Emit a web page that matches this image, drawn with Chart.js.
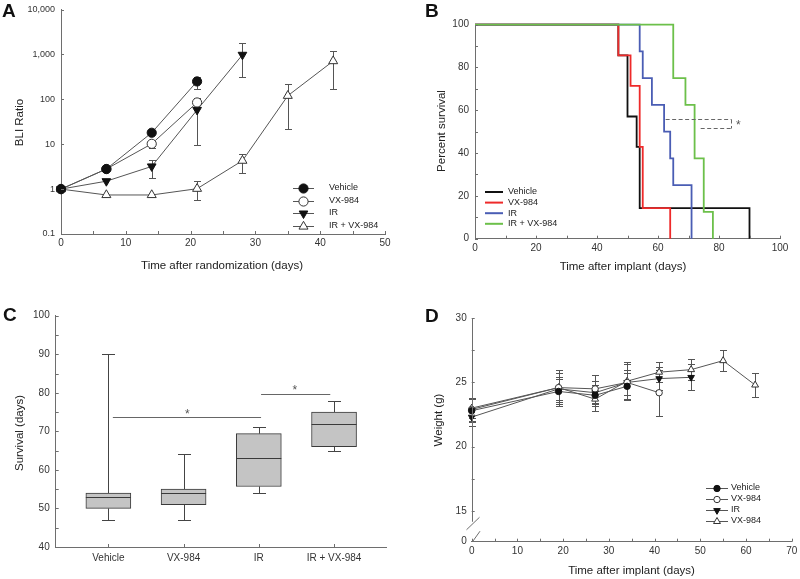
<!DOCTYPE html>
<html><head><meta charset="utf-8">
<script src="https://cdn.jsdelivr.net/npm/chart.js@4.4.0/dist/chart.umd.min.js"></script>
<style>
html,body{margin:0;padding:0;background:#fff;}
#wrap{position:relative;width:800px;height:579px;background:#fff;}
canvas{position:absolute;left:0;top:0;}
</style></head><body>
<div id="wrap">
<canvas id="cA" width="800" height="579"></canvas>
<canvas id="cB" width="800" height="579"></canvas>
<canvas id="cC" width="800" height="579"></canvas>
<canvas id="cD" width="800" height="579"></canvas>
</div>
<script>
// ================= DATA =================
// Panel A: BLI ratio (log scale)
const aLabels = ['Vehicle', 'VX-984', 'IR', 'IR + VX-984'];
const aYTickVals = [0.1, 1, 10, 100, 1000, 10000];
const aYTickLabels = ['0.1', '1', '10', '100', '1,000', '10,000'];
const aDaysVehicle = [0, 7, 14, 21];
const aVehicle = [1, 2.8, 18, 250];
const aVehicleLo = [null, null, null, 168];
const aVehicleHi = [null, null, null, 320];
const aDaysVX = [0, 7, 14, 21];
const aVX = [1, 2.8, 10.2, 85];
const aVXLo = [null, null, 8.3, 68];
const aVXHi = [null, null, 11.2, 105];
const aDaysIR = [0, 7, 14, 21, 28];
const aIR = [1, 1.5, 3.2, 58, 980];
const aIRLo = [null, null, 1.75, 9.7, 320];
const aIRHi = [null, null, 4.5, 100, 1750];
const aDaysCombo = [0, 7, 14, 21, 28, 35, 42];
const aCombo = [1, 0.74, 0.74, 1.02, 4.3, 120, 710];
const aComboLo = [null, null, null, 0.57, 2.3, 22, 168];
const aComboHi = [null, null, null, 1.5, 5.9, 215, 1220];

// Panel B: Kaplan-Meier survival
const bLabels = ['Vehicle', 'VX-984', 'IR', 'IR + VX-984'];
const bTimesVehicle = [0, 47, 50, 53, 54, 90];
const bSurvVehicle = [100, 85.7, 57.1, 42.9, 14.3, 0];
const bTimesVX = [0, 47, 51, 54, 55, 64];
const bSurvVX = [100, 85.7, 71.4, 42.9, 14.3, 0];
const bTimesIR = [0, 54, 55, 58, 62, 64, 65, 71];
const bSurvIR = [100, 87.5, 75, 62.5, 50, 37.5, 25, 0];
const bTimesCombo = [0, 65, 69, 72, 75, 78];
const bSurvCombo = [100, 75, 62.5, 37.5, 12.5, 0];
const bBracketTopY = 56, bBracketBotY = 51.8;
const bBracketTopX0 = 62.5, bBracketBotX0 = 74, bBracketX1 = 84, bStarX = 86.3;

// Panel C: survival box plot
const cCategories = ['Vehicle', 'VX-984', 'IR', 'IR + VX-984'];
const cMin = [47, 47, 54, 65];
const cQ1 = [50, 51, 55.7, 66];
const cMedian = [53, 54, 63, 72];
const cQ3 = [54, 55, 69.4, 75];
const cMax = [90, 64, 71, 78];
const cSigX0 = [1.06, 3.03];
const cSigX1 = [3.03, 3.95];
const cSigY = [73.6, 79.8];
const cStarX = [2.05, 3.48];

// Panel D: body weight
const dLabels = ['Vehicle', 'VX-984', 'IR', 'VX-984'];
const dDaysVehicle = [0, 19, 27, 34];
const dVehicle = [22.8, 24.3, 24.0, 24.7];
const dVehicleSD = [0.9, 1.0, 0.8, 1.0];
const dDaysVX = [0, 19, 27, 34, 41];
const dVX = [22.9, 24.6, 24.5, 25.0, 24.2];
const dVXSD = [0.9, 1.1, 1.1, 1.0, 1.8];
const dDaysIR = [0, 19, 27, 34, 41, 48];
const dIR = [22.3, 24.5, 24.2, 25.0, 25.3, 25.4];
const dIRSD = [0.7, 0.9, 0.9, 1.4, 0.9, 1.0];
const dDaysCombo = [0, 19, 27, 34, 41, 48, 55, 62];
const dCombo = [23.0, 24.6, 23.7, 25.1, 25.8, 26.0, 26.7, 24.8];
const dComboSD = [0.8, 1.4, 0.9, 1.5, 0.8, 0.8, 0.8, 0.9];
const dYBreakMin = 12.59; // axis bottom shown as "0" (broken axis)

// ================= HELPERS =================
const FONT = "'Liberation Sans', Arial, Helvetica, sans-serif";
Chart.defaults.font.family = FONT;
Chart.defaults.font.size = 10;
Chart.defaults.color = '#333';
Chart.defaults.animation = false;
Chart.defaults.events = [];
Chart.defaults.plugins.legend.display = false;
Chart.defaults.plugins.tooltip.enabled = false;

const AXIS = '#6e6e6e';
const LINE = '#555';
const W = 800, H = 579, YW = 50, XH = 20;

function area(L, T, R, B) { return { left: L - YW, top: T, right: W - R, bottom: H - B - XH }; }
function fitY(s) { s.width = YW; s.paddingTop = 0; s.paddingBottom = 0; }
function fitX(s) { s.height = XH; s.paddingLeft = 0; s.paddingRight = 0; }
function range(a, b, st) { const r = []; for (let v = a; v <= b + 1e-9; v += st) r.push(+v.toFixed(4)); return r; }
function pts(xs, ys) { return xs.map((x, i) => ({ x: x, y: ys[i] })); }

function axisBase(extra) {
  return Object.assign({
    grid: { display: false, drawTicks: false },
    border: { display: true, color: AXIS, width: 1 },
  }, extra);
}

function text(ctx, s, x, y, size, o) {
  o = o || {};
  ctx.save();
  ctx.font = (o.bold ? 'bold ' : '') + size + 'px ' + FONT;
  ctx.fillStyle = o.color || '#222';
  ctx.textAlign = o.align || 'center';
  ctx.textBaseline = o.baseline || 'middle';
  ctx.translate(x, y);
  if (o.rot) ctx.rotate(o.rot);
  ctx.fillText(s, 0, 0);
  ctx.restore();
}

function inTicks(ctx, scale, values, len) {
  ctx.save();
  ctx.strokeStyle = AXIS; ctx.lineWidth = 1; ctx.beginPath();
  values.forEach(v => {
    const p = Math.round(scale.getPixelForValue(v)) + 0.5;
    if (scale.isHorizontal()) { const y = scale.top; ctx.moveTo(p, y); ctx.lineTo(p, y - len); }
    else { const x = scale.right; ctx.moveTo(x, p); ctx.lineTo(x + len, p); }
  });
  ctx.stroke(); ctx.restore();
}

function errBars(chart, xs, lo, hi, cap) {
  const ctx = chart.ctx, sx = chart.scales.x, sy = chart.scales.y;
  ctx.save(); ctx.strokeStyle = LINE; ctx.lineWidth = 1; ctx.beginPath();
  xs.forEach((x, i) => {
    if (lo[i] == null) return;
    const px = Math.round(sx.getPixelForValue(x)) + 0.5;
    const y1 = Math.round(sy.getPixelForValue(lo[i])) + 0.5;
    const y2 = Math.round(sy.getPixelForValue(hi[i])) + 0.5;
    ctx.moveTo(px, y1); ctx.lineTo(px, y2);
    ctx.moveTo(px - cap, y1); ctx.lineTo(px + cap, y1);
    ctx.moveTo(px - cap, y2); ctx.lineTo(px + cap, y2);
  });
  ctx.stroke(); ctx.restore();
}

function marker(ctx, st, x, y) {
  ctx.save();
  ctx.fillStyle = st.fill; ctx.strokeStyle = st.stroke; ctx.lineWidth = 1;
  if (Chart.helpers && Chart.helpers.drawPoint) {
    Chart.helpers.drawPoint(ctx, { pointStyle: st.style, rotation: st.rot || 0, radius: st.r, borderWidth: 1 }, x, y);
  } else {
    ctx.beginPath(); ctx.arc(x, y, st.r, 0, Math.PI * 2); ctx.fill(); ctx.stroke();
  }
  ctx.restore();
}

function markerLegend(ctx, labels, styles, x1, x2, xm, xt, ys, size) {
  labels.forEach((lab, i) => {
    const y = ys[i];
    ctx.save(); ctx.strokeStyle = LINE; ctx.lineWidth = 1; ctx.beginPath();
    ctx.moveTo(x1, Math.round(y) + 0.5); ctx.lineTo(x2, Math.round(y) + 0.5); ctx.stroke(); ctx.restore();
    marker(ctx, styles[i], xm, Math.round(y) + 0.5);
    text(ctx, lab, xt, y, size, { align: 'left' });
  });
}

function lineDs(label, xs, ys, st) {
  return {
    label: label, data: pts(xs, ys), borderColor: LINE, borderWidth: 1, tension: 0, clip: false,
    pointStyle: st.style, rotation: st.rot || 0, pointRadius: st.r,
    pointBackgroundColor: st.fill, pointBorderColor: st.stroke, pointBorderWidth: 1
  };
}

// ================= PANEL A =================
const aStyles = [
  { style: 'circle', r: 4.6, fill: '#111', stroke: '#111' },
  { style: 'circle', r: 4.6, fill: '#fff', stroke: '#333' },
  { style: 'triangle', rot: 180, r: 5, fill: '#111', stroke: '#111' },
  { style: 'triangle', r: 5.2, fill: '#fff', stroke: '#333' }
];
new Chart(document.getElementById('cA'), {
  type: 'line',
  data: { datasets: [
    lineDs(aLabels[0], aDaysVehicle, aVehicle, aStyles[0]),
    lineDs(aLabels[1], aDaysVX, aVX, aStyles[1]),
    lineDs(aLabels[2], aDaysIR, aIR, aStyles[2]),
    lineDs(aLabels[3], aDaysCombo, aCombo, aStyles[3])
  ] },
  options: {
    responsive: false,
    layout: { padding: area(61, 9.5, 385, 234) },
    scales: {
      x: axisBase({ type: 'linear', min: 0, max: 50, afterFit: fitX,
        ticks: { stepSize: 10, padding: 3.5, maxRotation: 0, autoSkip: false } }),
      y: axisBase({ type: 'logarithmic', min: 0.1, max: 10000, afterFit: fitY,
        afterBuildTicks: s => { s.ticks = aYTickVals.map(v => ({ value: v })); },
        ticks: { padding: 6, autoSkip: false, font: { size: 9 }, callback: (v, i) => aYTickLabels[i] } })
    }
  },
  plugins: [{
    id: 'decoA',
    beforeDatasetsDraw(chart) {
      errBars(chart, aDaysVehicle, aVehicleLo, aVehicleHi, 3.5);
      errBars(chart, aDaysVX, aVXLo, aVXHi, 3.5);
      errBars(chart, aDaysIR, aIRLo, aIRHi, 3.5);
      errBars(chart, aDaysCombo, aComboLo, aComboHi, 3.5);
    },
    afterDraw(chart) {
      const ctx = chart.ctx;
      inTicks(ctx, chart.scales.x, range(0, 50, 5), 3);
      inTicks(ctx, chart.scales.y, aYTickVals, 3);
      text(ctx, 'A', 2, 17, 19, { bold: true, align: 'left', baseline: 'alphabetic', color: '#111' });
      text(ctx, 'Time after randomization (days)', 222, 265.5, 11.5);
      text(ctx, 'BLI Ratio', 19.5, 122.5, 11.5, { rot: -Math.PI / 2 });
      markerLegend(ctx, aLabels, aStyles, 293, 314, 303.5, 329, [188, 200.5, 213, 225.5], 9);
    }
  }]
});

// ================= PANEL B =================
const bColors = ['#111111', '#ee2a2a', '#4a5db4', '#6cc04a'];
function kmDs(label, xs, ys, color, order) {
  return { label: label, data: pts(xs, ys), borderColor: color, borderWidth: 1.8, stepped: true,
    pointRadius: 0, tension: 0, clip: false, order: order };
}
new Chart(document.getElementById('cB'), {
  type: 'line',
  data: { datasets: [
    kmDs(bLabels[0], bTimesVehicle, bSurvVehicle, bColors[0], 3),
    kmDs(bLabels[1], bTimesVX, bSurvVX, bColors[1], 2),
    kmDs(bLabels[2], bTimesIR, bSurvIR, bColors[2], 1),
    kmDs(bLabels[3], bTimesCombo, bSurvCombo, bColors[3], 0)
  ] },
  options: {
    responsive: false,
    layout: { padding: area(475, 24.7, 780, 238.7) },
    scales: {
      x: axisBase({ type: 'linear', min: 0, max: 100, afterFit: fitX,
        ticks: { stepSize: 20, padding: 4, maxRotation: 0, autoSkip: false } }),
      y: axisBase({ type: 'linear', min: 0, max: 100, afterFit: fitY,
        ticks: { stepSize: 20, padding: 6, autoSkip: false } })
    }
  },
  plugins: [{
    id: 'decoB',
    afterDraw(chart) {
      const ctx = chart.ctx, sx = chart.scales.x, sy = chart.scales.y;
      inTicks(ctx, sx, range(0, 100, 10), 3);
      inTicks(ctx, sy, range(0, 100, 10), 3);
      // significance bracket
      const yT = Math.round(sy.getPixelForValue(bBracketTopY)) + 0.5;
      const yB = Math.round(sy.getPixelForValue(bBracketBotY)) + 0.5;
      const xR = Math.round(sx.getPixelForValue(bBracketX1)) + 0.5;
      ctx.save(); ctx.strokeStyle = '#666'; ctx.lineWidth = 1; ctx.setLineDash([4, 2.5]);
      ctx.beginPath();
      ctx.moveTo(sx.getPixelForValue(bBracketTopX0), yT); ctx.lineTo(xR, yT);
      ctx.moveTo(sx.getPixelForValue(bBracketBotX0), yB); ctx.lineTo(xR, yB);
      ctx.moveTo(xR, yT); ctx.lineTo(xR, yB);
      ctx.stroke(); ctx.restore();
      text(ctx, '*', sx.getPixelForValue(bStarX), (yT + yB) / 2 + 2, 12, { color: '#555' });
      text(ctx, 'B', 425, 17, 19, { bold: true, align: 'left', baseline: 'alphabetic', color: '#111' });
      text(ctx, 'Time after implant (days)', 623, 266.5, 11.5);
      text(ctx, 'Percent survival', 442, 131, 11.5, { rot: -Math.PI / 2 });
      const ys = [192, 202.6, 213.2, 223.8];
      bLabels.forEach((lab, i) => {
        ctx.save(); ctx.strokeStyle = bColors[i]; ctx.lineWidth = 2; ctx.beginPath();
        ctx.moveTo(485, ys[i]); ctx.lineTo(503, ys[i]); ctx.stroke(); ctx.restore();
        text(ctx, lab, 508, ys[i], 9, { align: 'left' });
      });
    }
  }]
});

// ================= PANEL C =================
new Chart(document.getElementById('cC'), {
  type: 'bar',
  data: { datasets: [{
    label: 'Survival',
    data: cCategories.map((c, i) => ({ x: i + 1, y: [cQ1[i], cQ3[i]] })),
    backgroundColor: '#c4c4c4', borderColor: '#3a3a3a', borderWidth: 1, borderSkipped: false,
    barThickness: 45
  }] },
  options: {
    responsive: false,
    layout: { padding: area(55.7, 315.7, 386.7, 547) },
    scales: {
      x: axisBase({ type: 'linear', min: 0.3, max: 4.7, offset: false, afterFit: fitX,
        afterBuildTicks: s => { s.ticks = cCategories.map((c, i) => ({ value: i + 1 })); },
        ticks: { padding: 5.3, maxRotation: 0, autoSkip: false, callback: (v, i) => cCategories[i] } }),
      y: axisBase({ type: 'linear', min: 40, max: 100, afterFit: fitY,
        ticks: { stepSize: 10, padding: 6, autoSkip: false } })
    }
  },
  plugins: [{
    id: 'decoC',
    beforeDatasetsDraw(chart) {
      const ctx = chart.ctx, sx = chart.scales.x, sy = chart.scales.y;
      ctx.save(); ctx.strokeStyle = '#444'; ctx.lineWidth = 1; ctx.beginPath();
      cCategories.forEach((c, i) => {
        const x = Math.round(sx.getPixelForValue(i + 1)) + 0.5;
        const yMax = Math.round(sy.getPixelForValue(cMax[i])) + 0.5;
        const yMin = Math.round(sy.getPixelForValue(cMin[i])) + 0.5;
        ctx.moveTo(x, sy.getPixelForValue(cQ3[i])); ctx.lineTo(x, yMax);
        ctx.moveTo(x, sy.getPixelForValue(cQ1[i])); ctx.lineTo(x, yMin);
        ctx.moveTo(x - 6.5, yMax); ctx.lineTo(x + 6.5, yMax);
        ctx.moveTo(x - 6.5, yMin); ctx.lineTo(x + 6.5, yMin);
      });
      ctx.stroke(); ctx.restore();
    },
    afterDatasetsDraw(chart) {
      const ctx = chart.ctx, sx = chart.scales.x, sy = chart.scales.y;
      ctx.save(); ctx.strokeStyle = '#3a3a3a'; ctx.lineWidth = 1; ctx.beginPath();
      cCategories.forEach((c, i) => {
        const x = sx.getPixelForValue(i + 1);
        const y = Math.round(sy.getPixelForValue(cMedian[i])) + 0.5;
        ctx.moveTo(x - 22.5, y); ctx.lineTo(x + 22.5, y);
      });
      ctx.stroke(); ctx.restore();
    },
    afterDraw(chart) {
      const ctx = chart.ctx, sx = chart.scales.x, sy = chart.scales.y;
      inTicks(ctx, sx, [1, 2, 3, 4], 3);
      inTicks(ctx, sy, range(40, 100, 5), 3);
      ctx.save(); ctx.strokeStyle = '#666'; ctx.lineWidth = 1; ctx.beginPath();
      cSigY.forEach((yv, i) => {
        const y = Math.round(sy.getPixelForValue(yv)) + 0.5;
        ctx.moveTo(sx.getPixelForValue(cSigX0[i]), y); ctx.lineTo(sx.getPixelForValue(cSigX1[i]), y);
      });
      ctx.stroke(); ctx.restore();
      cSigY.forEach((yv, i) => {
        text(ctx, '*', sx.getPixelForValue(cStarX[i]), sy.getPixelForValue(yv) - 3, 12, { color: '#555' });
      });
      text(ctx, 'C', 3, 321, 19, { bold: true, align: 'left', baseline: 'alphabetic', color: '#111' });
      text(ctx, 'Survival (days)', 20, 433, 11.5, { rot: -Math.PI / 2 });
    }
  }]
});

// ================= PANEL D =================
const dStyles = [
  { style: 'circle', r: 3.2, fill: '#111', stroke: '#111' },
  { style: 'circle', r: 3.2, fill: '#fff', stroke: '#333' },
  { style: 'triangle', rot: 180, r: 3.8, fill: '#111', stroke: '#111' },
  { style: 'triangle', r: 4, fill: '#fff', stroke: '#333' }
];
function sub(a, b) { return a.map((v, i) => v - b[i]); }
function add(a, b) { return a.map((v, i) => v + b[i]); }
new Chart(document.getElementById('cD'), {
  type: 'line',
  data: { datasets: [
    lineDs(dLabels[0], dDaysVehicle, dVehicle, dStyles[0]),
    lineDs(dLabels[1], dDaysVX, dVX, dStyles[1]),
    lineDs(dLabels[2], dDaysIR, dIR, dStyles[2]),
    lineDs(dLabels[3], dDaysCombo, dCombo, dStyles[3])
  ] },
  options: {
    responsive: false,
    layout: { padding: area(471.7, 318.3, 791.7, 541.7) },
    scales: {
      x: axisBase({ type: 'linear', min: 0, max: 70, afterFit: fitX,
        ticks: { stepSize: 10, padding: 3.5, maxRotation: 0, autoSkip: false } }),
      y: axisBase({ type: 'linear', min: dYBreakMin, max: 30, afterFit: fitY,
        border: { display: false },
        afterBuildTicks: s => { s.ticks = [dYBreakMin, 15, 20, 25, 30].map(v => ({ value: v })); },
        ticks: { padding: 5, autoSkip: false, callback: v => (v < 14 ? '0' : String(v)) } })
    }
  },
  plugins: [{
    id: 'decoD',
    beforeDatasetsDraw(chart) {
      errBars(chart, dDaysVehicle, sub(dVehicle, dVehicleSD), add(dVehicle, dVehicleSD), 3.5);
      errBars(chart, dDaysVX, sub(dVX, dVXSD), add(dVX, dVXSD), 3.5);
      errBars(chart, dDaysIR, sub(dIR, dIRSD), add(dIR, dIRSD), 3.5);
      errBars(chart, dDaysCombo, sub(dCombo, dComboSD), add(dCombo, dComboSD), 3.5);
    },
    afterDraw(chart) {
      const ctx = chart.ctx, sx = chart.scales.x, sy = chart.scales.y;
      const x0 = Math.round(sy.right) + 0.5;
      const yTop = sy.getPixelForValue(30);
      const y15 = sy.getPixelForValue(15);
      const yBot = sy.getPixelForValue(dYBreakMin);
      ctx.save(); ctx.strokeStyle = AXIS; ctx.lineWidth = 1; ctx.beginPath();
      ctx.moveTo(x0, yTop); ctx.lineTo(x0, y15 + 11);
      // break marks
      ctx.moveTo(x0 - 6, y15 + 19); ctx.lineTo(x0 + 7, y15 + 6.5);
      ctx.moveTo(x0, yBot); ctx.lineTo(x0 + 7.5, yBot - 10.5);
      ctx.stroke(); ctx.restore();
      inTicks(ctx, sx, range(0, 70, 5), 3);
      inTicks(ctx, sy, range(15, 30, 2.5), 3);
      text(ctx, 'D', 425, 322, 19, { bold: true, align: 'left', baseline: 'alphabetic', color: '#111' });
      text(ctx, 'Time after implant (days)', 631.5, 571, 11.5);
      text(ctx, 'Weight (g)', 438.5, 420, 11.5, { rot: -Math.PI / 2 });
      markerLegend(ctx, dLabels, dStyles, 706, 728, 717, 731, [488, 499, 510, 521], 9);
    }
  }]
});
</script>
</body></html>
